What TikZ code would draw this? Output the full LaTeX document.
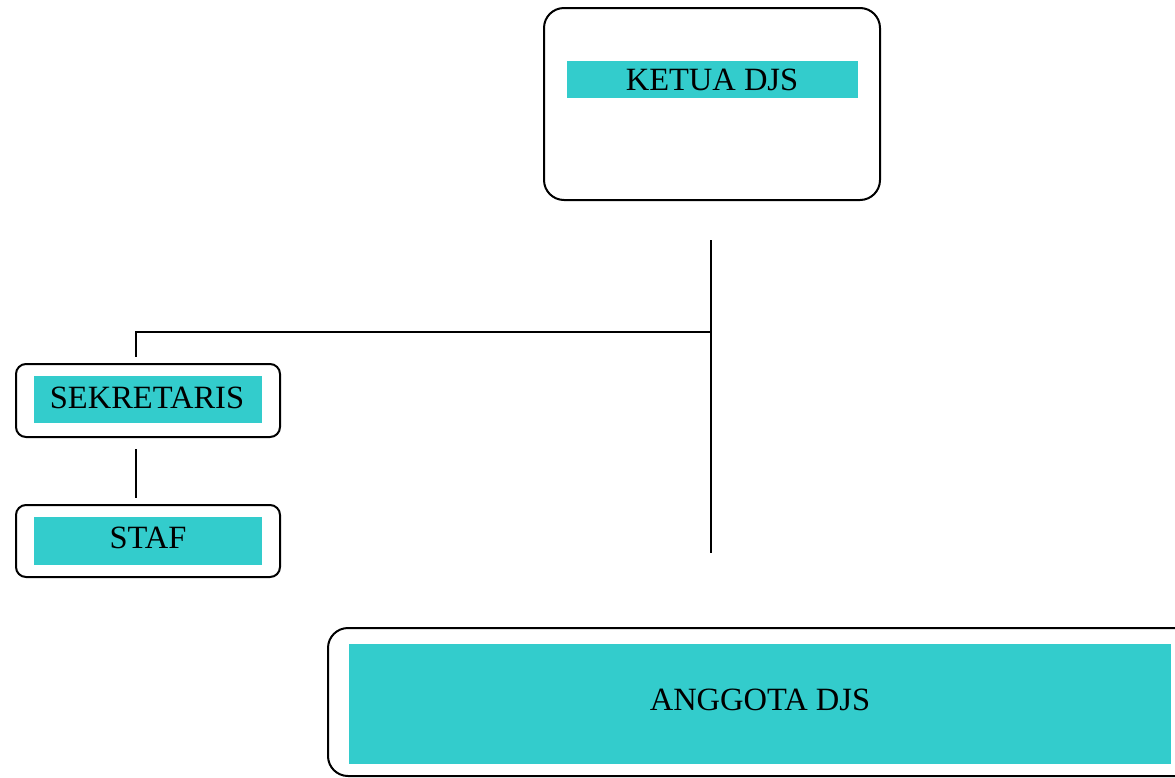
\documentclass[tikz,border=0pt]{standalone}
\usepackage{fontspec}
\setmainfont{Liberation Serif}
\definecolor{boxcyan}{HTML}{33CCCC}
\begin{document}
\begin{tikzpicture}[x=1pt,y=-1pt,
  outerbox/.style={draw=black,line width=2pt,rounded corners=#1,fill=white},
  outerbox/.default=20pt,
  band/.style={fill=boxcyan,draw=none},
  lbl/.style={font=\fontsize{32.5}{38}\selectfont,text=black,inner sep=0pt},
  conn/.style={draw=black,line width=2pt}]
\useasboundingbox (0,0) rectangle (1175,777);
\begin{scope}
\clip (0,0) rectangle (1175,777);
% Ketua box
\draw[outerbox] (544,8) rectangle (880,200);
\fill[band] (567,61) rectangle (858,98);
\node[lbl] (ketua) at (712,80) {KETUA DJS};
% Sekretaris box
\draw[outerbox=10pt] (16,364) rectangle (280,437);
\fill[band] (34,376) rectangle (262,423);
\node[lbl] (sekretaris) at (147,398) {SEKRETARIS};
% Staf box
\draw[outerbox=10pt] (16,505) rectangle (280,577);
\fill[band] (34,517) rectangle (262,565);
\node[lbl] (staf) at (148,538) {STAF};
% Anggota box (extends beyond the right edge)
\draw[outerbox] (328,628) rectangle (1200,776);
\fill[band] (349,644) rectangle (1171,764);
\node[lbl] (anggota) at (760,700) {ANGGOTA DJS};
\end{scope}
% connectors
\coordinate (vtop) at (711,240);
\coordinate (vjunc) at (711,332);
\coordinate (vbot) at (711,553);
\coordinate (sekcorner) at (136,332);
\coordinate (sekend) at (136,357);
\coordinate (stafstart) at (136,449);
\coordinate (stafend) at (136,498);
\draw[conn] (vtop) -- (vbot);
\draw[conn] (vjunc) -- (sekcorner) -- (sekend);
\draw[conn] (stafstart) -- (stafend);
\end{tikzpicture}
\end{document}
